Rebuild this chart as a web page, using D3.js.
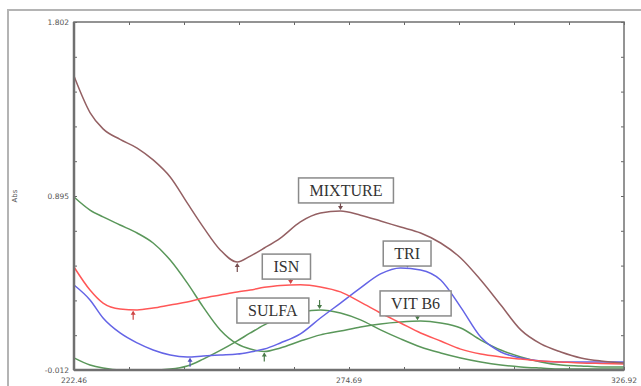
<!DOCTYPE html>
<html>
<head>
<meta charset="utf-8">
<script src="https://cdn.jsdelivr.net/npm/d3@7"></script>
<style>
  body { margin: 0; background: #fff; }
  svg { display: block; }
</style>
</head>
<body>
<svg id="chart"></svg>
<script>
var width = 641,
    height = 386;

// wavelength grid (nm)
var wavelength = [222.46, 225.50, 227.98, 231.21, 234.45, 237.49, 240.73, 243.96, 247.01, 250.24,
    253.47, 255.95, 258.61, 261.66, 265.46, 269.27, 273.07, 276.88, 280.68, 284.49,
    288.29, 292.10, 295.90, 299.71, 303.52, 307.32, 311.13, 314.93, 318.74, 322.54, 326.92];

var mixture = [1.520, 1.330, 1.245, 1.190, 1.145, 1.083, 0.994, 0.859, 0.733, 0.614,
    0.551, 0.582, 0.624, 0.676, 0.760, 0.806, 0.817, 0.795, 0.765, 0.733,
    0.702, 0.650, 0.572, 0.457, 0.327, 0.197, 0.124, 0.082, 0.051, 0.035, 0.025];

var isn = [0.525, 0.405, 0.337, 0.306, 0.301, 0.311, 0.327, 0.342, 0.363, 0.379,
    0.395, 0.405, 0.419, 0.429, 0.432, 0.421, 0.395, 0.342, 0.285, 0.233,
    0.181, 0.139, 0.097, 0.071, 0.056, 0.045, 0.035, 0.030, 0.025, 0.022, 0.019];

var tri = [0.431, 0.353, 0.259, 0.181, 0.129, 0.092, 0.066, 0.056, 0.061, 0.066,
    0.071, 0.082, 0.097, 0.129, 0.176, 0.259, 0.337, 0.416, 0.489, 0.520,
    0.509, 0.457, 0.316, 0.160, 0.082, 0.051, 0.035, 0.030, 0.030, 0.030, 0.030];

var sulfa = [0.051, 0.014, -0.002, -0.012, -0.012, -0.012, -0.007, 0.009, 0.045, 0.090,
    0.140, 0.181, 0.223, 0.264, 0.290, 0.301, 0.285, 0.249, 0.197, 0.150,
    0.108, 0.077, 0.051, 0.030, 0.014, 0.004, -0.002, -0.007, -0.007, -0.007, -0.007];

var vitB6 = [0.890, 0.822, 0.786, 0.744, 0.702, 0.650, 0.561, 0.442, 0.316, 0.197,
    0.124, 0.097, 0.084, 0.103, 0.139, 0.171, 0.191, 0.212, 0.228, 0.238,
    0.243, 0.233, 0.207, 0.144, 0.092, 0.056, 0.030, 0.014, 0.009, 0.004, 0.004];

var xTicks = [222.46, 274.69, 326.92];
var yTicks = [-0.012, 0.895, 1.802];

// peak / valley markers (series name, wavelength, kind)
var markers = [
    ["MIXTURE", 273.07, "max"], ["MIXTURE", 253.47, "min"],
    ["ISN", 263.60, "max"], ["ISN", 233.70, "min"],
    ["TRI", 285.80, "max"], ["TRI", 244.50, "min"],
    ["SULFA", 269.10, "max"],
    ["VIT B6", 258.60, "min"], ["VIT B6", 287.70, "max"]
];

// label boxes centred on (wavelength, abs)
var labelText = ["MIXTURE", "TRI", "ISN", "SULFA", "VIT B6"];
var labelWl = [274.12, 285.73, 262.80, 260.23, 287.34];
var labelAbs = [0.924, 0.595, 0.527, 0.298, 0.335];

var series = [
    { name: "VIT B6", values: vitB6, color: "#5a975a" },
    { name: "SULFA", values: sulfa, color: "#5a975a" },
    { name: "TRI", values: tri, color: "#6464e6" },
    { name: "ISN", values: isn, color: "#ff5757" },
    { name: "MIXTURE", values: mixture, color: "#946063" }
];

var margin = { left: 74, top: 22, right: 17, bottom: 16 };
var pw = width - margin.left - margin.right,
    ph = height - margin.top - margin.bottom;

var svg = d3.select("#chart")
    .attr("width", width)
    .attr("height", height)
    .style("font-family", "'DejaVu Sans', sans-serif");

// outer frame
svg.append("rect")
    .attr("x", 8).attr("y", 10)
    .attr("width", 660).attr("height", 400)
    .style("fill", "none")
    .style("stroke", "#b4b4b4")
    .style("stroke-width", 2);

var x = d3.scaleLinear().domain([222.46, 326.92]).range([0, pw]);
var y = d3.scaleLinear().domain([-0.012, 1.802]).range([ph, 0]);

var g = svg.append("g")
    .attr("transform", "translate(" + margin.left + "," + margin.top + ")");

// minor ticks on all four sides, pointing inwards
var xMinor = d3.range(11).map(function (i) { return 222.46 + i * (326.92 - 222.46) / 10; });
var yMinor = d3.range(11).map(function (i) { return -0.012 + i * (1.802 + 0.012) / 10; });

g.append("g").call(d3.axisBottom(x).tickValues(xMinor).tickSize(-3).tickFormat(""))
    .attr("transform", "translate(0," + ph + ")");
g.append("g").call(d3.axisTop(x).tickValues(xMinor).tickSize(-3).tickFormat(""));
g.append("g").call(d3.axisLeft(y).tickValues(yMinor).tickSize(-3).tickFormat(""));
g.append("g").call(d3.axisRight(y).tickValues(yMinor).tickSize(-3).tickFormat(""))
    .attr("transform", "translate(" + pw + ",0)");
g.selectAll(".domain").remove();
g.selectAll(".tick line").style("stroke", "#666");

// curves
var line = d3.line()
    .x(function (d, i) { return x(wavelength[i]); })
    .y(function (d) { return y(d); })
    .curve(d3.curveMonotoneX);

g.append("g").selectAll("path")
    .data(series)
    .enter()
    .append("path")
    .attr("d", function (d) { return line(d.values); })
    .style("fill", "none")
    .style("stroke", function (d) { return d.color; })
    .style("stroke-width", 1.5);

// frame of the plot area
g.append("rect")
    .attr("width", pw).attr("height", ph)
    .style("fill", "none")
    .style("stroke", "#707070")
    .style("stroke-width", 1.5);
g.append("line").attr("x1", 0).attr("x2", 0).attr("y1", 0).attr("y2", ph)
    .style("stroke", "#707070").style("stroke-width", 2.5);
g.append("line").attr("x1", 0).attr("x2", pw).attr("y1", ph).attr("y2", ph)
    .style("stroke", "#707070").style("stroke-width", 2.5);

// tick labels
g.selectAll(".xlab")
    .data(xTicks)
    .enter()
    .append("text")
    .attr("x", function (d) { return x(d); })
    .attr("y", ph + 13)
    .attr("text-anchor", "middle")
    .style("font-size", "7.5px")
    .style("fill", "#555")
    .text(function (d) { return d.toFixed(2); });

g.selectAll(".ylab")
    .data(yTicks)
    .enter()
    .append("text")
    .attr("x", -5)
    .attr("y", function (d) { return y(d) + 3; })
    .attr("text-anchor", "end")
    .style("font-size", "7.5px")
    .style("fill", "#555")
    .text(function (d) { return d.toFixed(3); });

svg.append("text")
    .attr("transform", "translate(17," + (margin.top + y(0.895)) + ") rotate(-90)")
    .attr("text-anchor", "middle")
    .style("font-size", "7px")
    .style("fill", "#555")
    .text("Abs");

// markers
function valueAt(values, wl) {
    var i = d3.bisectRight(wavelength, wl) - 1;
    i = Math.max(0, Math.min(wavelength.length - 2, i));
    var t = (wl - wavelength[i]) / (wavelength[i + 1] - wavelength[i]);
    return values[i] + t * (values[i + 1] - values[i]);
}

var byName = {};
series.forEach(function (s) { byName[s.name] = s; });

markers.forEach(function (m) {
    var s = byName[m[0]];
    var mx = x(m[1]), my = y(valueAt(s.values, m[1]));
    var dir = m[2] === "max" ? -1 : 1;
    var c = d3.color(s.color).darker(0.6);
    g.append("line")
        .attr("x1", mx).attr("x2", mx)
        .attr("y1", my + dir * 2).attr("y2", my + dir * 10)
        .style("stroke", c).style("stroke-width", 1.2);
    g.append("path")
        .attr("d", "M" + (mx - 2.5) + "," + (my + dir * 5) + "L" + mx + "," + (my + dir * 1) + "L" + (mx + 2.5) + "," + (my + dir * 5) + "Z")
        .style("fill", c);
});

// label boxes
labelText.forEach(function (t, i) {
    var cx = x(labelWl[i]), cy = y(labelAbs[i]);
    var lg = g.append("g");
    var box = lg.append("rect");
    var txt = lg.append("text")
        .attr("x", cx)
        .attr("y", cy + 5.5)
        .attr("text-anchor", "middle")
        .style("font-family", "'Liberation Serif', 'DejaVu Serif', serif")
        .style("font-size", "16px")
        .style("fill", "#333")
        .text(t);
    var bw = txt.node().getBBox().width + 22;
    box.attr("x", cx - bw / 2)
        .attr("y", cy - 12.5)
        .attr("width", bw)
        .attr("height", 25)
        .style("fill", "#fff")
        .style("stroke", "#8a8a8a")
        .style("stroke-width", 1.5);
});
</script>
</body>
</html>
